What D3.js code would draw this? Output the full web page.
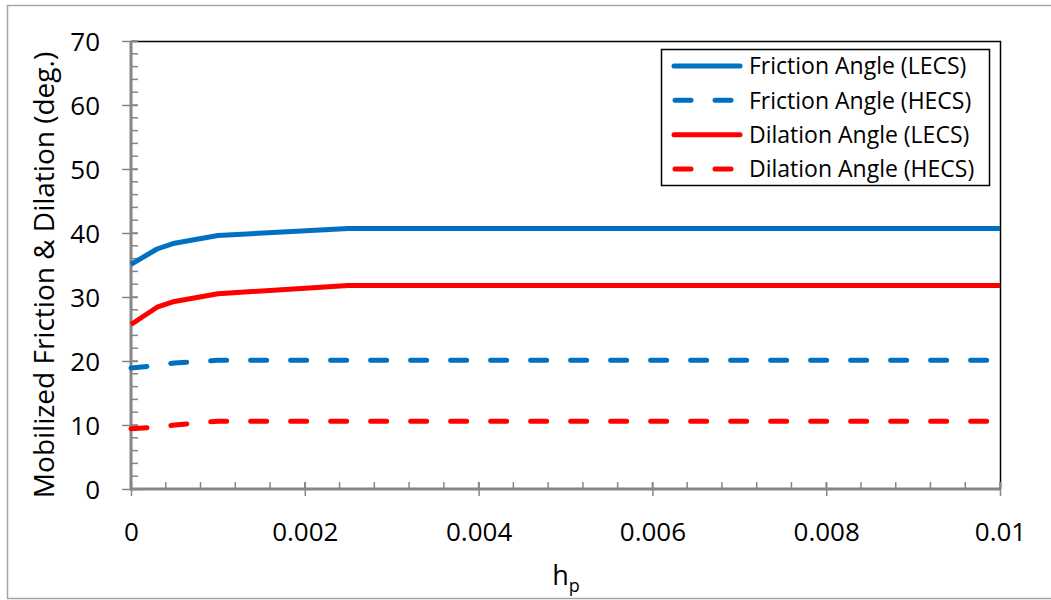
<!DOCTYPE html>
<html>
<head>
<meta charset="utf-8">
<script src="https://cdn.jsdelivr.net/npm/d3@7/dist/d3.min.js"></script>
<style>
  html, body { margin: 0; padding: 0; background: #fff; }
  svg { display: block; font-family: "Open Sans", "Lato", sans-serif; }
</style>
</head>
<body>
<svg id="chart" width="1051" height="600"></svg>
<script>
// Plastic strain parameter h_p
const hp = [0, 0.0003, 0.0005, 0.001, 0.0025, 0.01];

// Mobilized angles (degrees) at each h_p
const frictionLECS = [35.1, 37.5, 38.4, 39.6, 40.7, 40.7];
const frictionHECS = [18.9, 19.3, 19.7, 20.1, 20.1, 20.1];
const dilationLECS = [25.7, 28.4, 29.3, 30.5, 31.8, 31.8];
const dilationHECS = [9.4, 9.7, 10.0, 10.6, 10.6, 10.6];

const seriesNames = [
  "Friction Angle (LECS)",
  "Friction Angle (HECS)",
  "Dilation Angle (LECS)",
  "Dilation Angle (HECS)"
];

const xTicks = [0, 0.002, 0.004, 0.006, 0.008, 0.01];
const yTicks = [0, 10, 20, 30, 40, 50, 60, 70];

const series = [
  { name: seriesNames[0], values: frictionLECS, color: "#0070C0", dashed: false },
  { name: seriesNames[1], values: frictionHECS, color: "#0070C0", dashed: true },
  { name: seriesNames[2], values: dilationLECS, color: "#FF0000", dashed: false },
  { name: seriesNames[3], values: dilationHECS, color: "#FF0000", dashed: true }
];

const svg = d3.select("#chart");
const axisColor = "#868686";

// outer chart frame
svg.append("rect")
  .attr("x", 7.5).attr("y", 5.5)
  .attr("width", 1060).attr("height", 593)
  .attr("fill", "none").attr("stroke", "#a6a6a6").attr("stroke-width", 1.5);

const plot = { left: 131, right: 1000, top: 41, bottom: 489 };

const x = d3.scaleLinear().domain([0, 0.01]).range([plot.left, plot.right]);
const y = d3.scaleLinear().domain([0, 70]).range([plot.bottom, plot.top]);

// plot area border (top and right)
svg.append("path")
  .attr("d", `M${plot.left},${plot.top + 0.5}H${plot.right + 0.5}V${plot.bottom}`)
  .attr("fill", "none").attr("stroke", "#000").attr("stroke-width", 1.5);

// minor ticks
const xMinor = d3.range(0, 0.01 + 1e-9, 0.0004);
const yMinor = d3.range(0, 70.001, 2);

const g = svg.append("g");

g.selectAll(".xminor").data(xMinor).join("line")
  .attr("x1", d => x(d)).attr("x2", d => x(d))
  .attr("y1", plot.bottom).attr("y2", plot.bottom - 7)
  .attr("stroke", axisColor).attr("stroke-width", 1.5);

g.selectAll(".yminor").data(yMinor).join("line")
  .attr("x1", plot.left).attr("x2", plot.left + 7)
  .attr("y1", d => y(d)).attr("y2", d => y(d))
  .attr("stroke", axisColor).attr("stroke-width", 1.5);

// x axis
const xAxis = d3.axisBottom(x).tickValues(xTicks)
  .tickFormat(d => d === 0 ? "0" : d3.format("~g")(+d.toFixed(4)))
  .tickSize(0).tickPadding(0);
const xg = svg.append("g").attr("transform", `translate(0,${plot.bottom})`).call(xAxis);
xg.select(".domain").attr("stroke", axisColor).attr("stroke-width", 3)
  .attr("d", `M${plot.left - 1},0H${plot.right + 1}`);
xg.selectAll(".tick line").remove();
xg.selectAll(".tick").append("line")
  .attr("y1", -7).attr("y2", 7).attr("stroke", axisColor).attr("stroke-width", 1.5);
xg.selectAll(".tick text")
  .attr("y", 52).attr("dy", null)
  .attr("font-size", 26).attr("fill", "#000")
  .attr("font-family", "Open Sans, sans-serif");

// y axis
const yAxis = d3.axisLeft(y).tickValues(yTicks).tickSize(0).tickPadding(0);
const yg = svg.append("g").attr("transform", `translate(${plot.left},0)`).call(yAxis);
yg.select(".domain").attr("stroke", axisColor).attr("stroke-width", 3)
  .attr("d", `M0,${plot.bottom + 1}V${plot.top}`);
yg.selectAll(".tick line").remove();
yg.selectAll(".tick").append("line")
  .attr("x1", -9).attr("x2", 7).attr("stroke", axisColor).attr("stroke-width", 1.5);
yg.selectAll(".tick text")
  .attr("x", -31).attr("dy", "0.36em")
  .attr("font-size", 26).attr("fill", "#000")
  .attr("font-family", "Open Sans, sans-serif");

// data lines
const line = d3.line().x((d, i) => x(hp[i])).y(d => y(d));

svg.append("g").selectAll("path").data(series).join("path")
  .attr("d", s => line(s.values))
  .attr("fill", "none")
  .attr("stroke", s => s.color)
  .attr("stroke-width", 5)
  .attr("stroke-linecap", s => s.dashed ? "round" : "butt")
  .attr("stroke-linejoin", "round")
  .attr("stroke-dasharray", s => s.dashed ? "16,24" : null);

// axis titles
svg.append("text")
  .attr("transform", "translate(54,275) rotate(-90)")
  .attr("text-anchor", "middle")
  .attr("font-size", 28).attr("fill", "#000")
  .text("Mobilized Friction & Dilation (deg.)");

const xt = svg.append("text")
  .attr("x", 566).attr("y", 585)
  .attr("text-anchor", "middle")
  .attr("font-size", 27).attr("fill", "#000");
xt.append("tspan").text("h");
xt.append("tspan").attr("font-size", 18).attr("dy", 7).text("p");

// legend
const legend = svg.append("g");
legend.append("rect")
  .attr("x", 661.5).attr("y", 49.5).attr("width", 328).attr("height", 136)
  .attr("fill", "#fff").attr("stroke", "#000").attr("stroke-width", 1.5);

const ly = d3.scalePoint().domain(seriesNames).range([66, 169]);

const items = legend.selectAll("g.item").data(series).join("g")
  .attr("transform", s => `translate(0,${ly(s.name)})`);
items.append("line")
  .attr("x1", s => s.dashed ? 675 : 674).attr("x2", 740)
  .attr("stroke", s => s.color).attr("stroke-width", 5)
  .attr("stroke-linecap", "round")
  .attr("stroke-dasharray", s => s.dashed ? "16,24" : null);
items.append("text")
  .attr("x", 749).attr("dy", "0.36em")
  .attr("font-size", 23).attr("fill", "#000")
  .text(s => s.name);
</script>
</body>
</html>
